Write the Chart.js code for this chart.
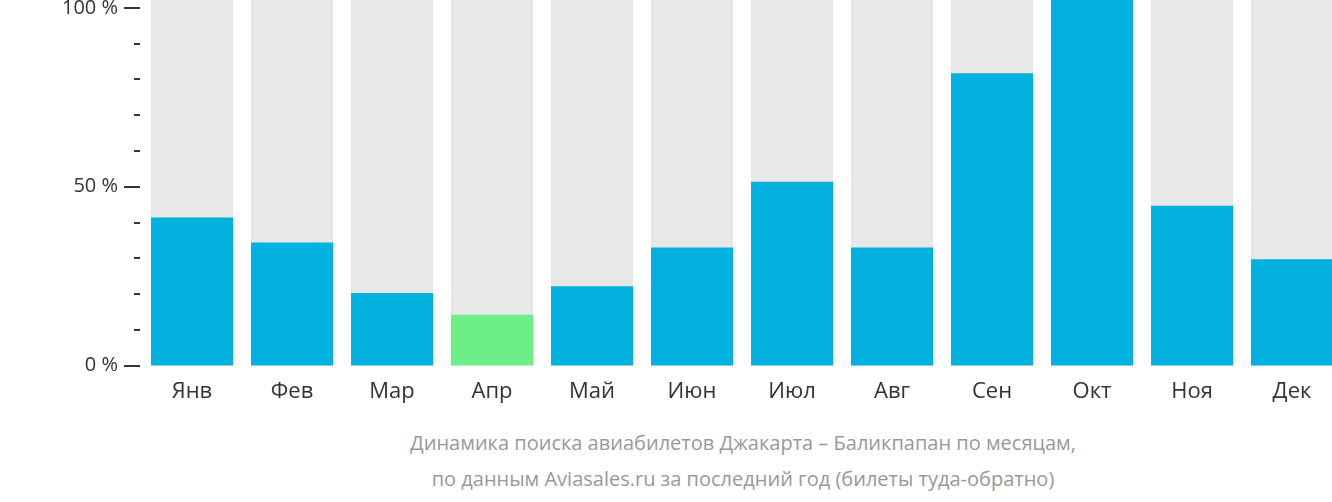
<!DOCTYPE html>
<html>
<head>
<meta charset="utf-8">
<script src="https://cdn.jsdelivr.net/npm/chart.js@4"></script>
<style>
  body { margin: 0; background: #fff; width: 1332px; height: 502px; overflow: hidden; position: relative; }
  #wrap { position: absolute; left: 0; top: -36px; width: 1342px; height: 449px; }
  .cap { position: absolute; left: 142px; width: 1202px; text-align: center; color: #999;
         font: 20px 'Open Sans', sans-serif; white-space: nowrap; }
</style>
</head>
<body>
<div id="wrap"><canvas id="chart"></canvas></div>
<div class="cap" style="top:429px">Динамика поиска авиабилетов Джакарта – Баликпапан по месяцам,</div>
<div class="cap" style="top:465px">по данным Aviasales.ru за последний год (билеты туда-обратно)</div>
<script>
const months = ['Янв', 'Фев', 'Мар', 'Апр', 'Май', 'Июн', 'Июл', 'Авг', 'Сен', 'Окт', 'Ноя', 'Дек'];
const searchShare = [41.4, 34.4, 20.3, 14.2, 22.2, 33, 51.4, 33, 81.7, 102.2, 44.7, 29.7];
const backdrop = months.map(() => 102.2);
const barColors = months.map((m, i) => i === 3 ? '#6bef86' : '#02b1dd');

// tick marks on the y axis: long at 0/50/100, short every 10
const tickMarks = {
  id: 'tickMarks',
  afterDraw(chart) {
    const { ctx, scales: { y }, chartArea } = chart;
    ctx.save();
    ctx.strokeStyle = '#333';
    ctx.lineWidth = 2;
    for (let v = 0; v <= 100; v += 10) {
      const py = Math.round(y.getPixelForValue(v));
      const len = v % 50 === 0 ? 16 : 6;
      ctx.beginPath();
      ctx.moveTo(chartArea.left - 2 - len, py);
      ctx.lineTo(chartArea.left - 2, py);
      ctx.stroke();
    }
    ctx.restore();
  }
};

new Chart(document.getElementById('chart'), {
  type: 'bar',
  data: {
    labels: months,
    datasets: [
      { data: searchShare, backgroundColor: barColors, grouped: false, order: 1,
        barPercentage: 0.82, categoryPercentage: 1 },
      { data: backdrop, backgroundColor: '#e8e8e8', grouped: false, order: 2,
        barPercentage: 0.82, categoryPercentage: 1 }
    ]
  },
  options: {
    responsive: true,
    maintainAspectRatio: false,
    animation: false,
    plugins: {
      legend: { display: false },
      tooltip: { enabled: false }
    },
    scales: {
      x: {
        grid: { display: false, drawTicks: false },
        border: { display: false },
        ticks: { color: '#333', font: { family: 'Open Sans', size: 22 }, padding: 8 }
      },
      y: {
        min: -1.4,
        max: 102.2,
        afterBuildTicks(scale) {
          scale.ticks = [{ value: 0 }, { value: 50 }, { value: 100 }];
        },
        grid: { display: false, drawTicks: false },
        border: { display: false },
        afterFit(scale) { scale.width = 142; },
        ticks: {
          color: '#333',
          font: { family: 'Open Sans', size: 20 },
          padding: 24,
          callback: v => v + ' %'
        }
      }
    }
  },
  plugins: [tickMarks]
});
</script>
</body>
</html>
